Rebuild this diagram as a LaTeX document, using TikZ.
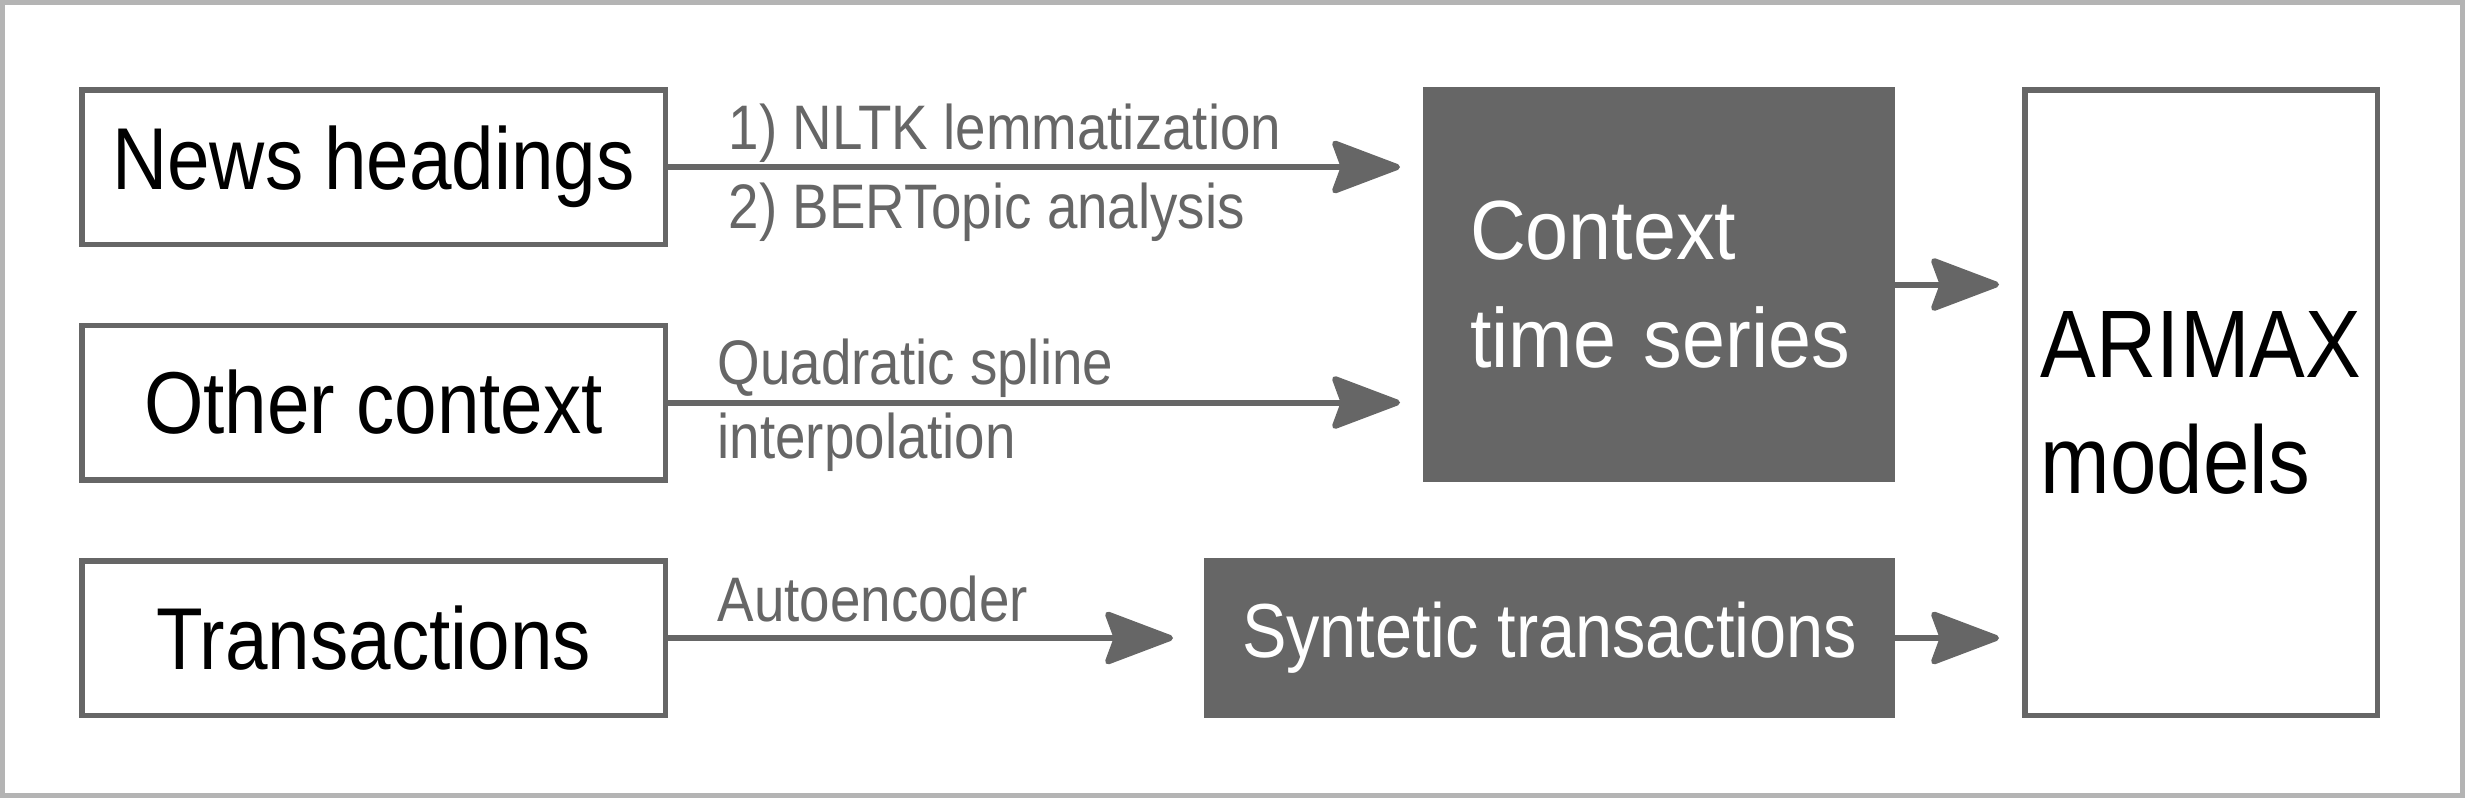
\documentclass[tikz,border=0pt]{standalone}
\usepackage{fontspec}
\setmainfont{Liberation Sans}[FakeStretch=0.87]
\newfontfamily\ctxfont{Liberation Sans}[FakeStretch=0.92]
\usetikzlibrary{arrows.meta, calc}
\definecolor{boxgray}{RGB}{102,102,102}
\definecolor{framegray}{RGB}{180,180,180}

\tikzset{
  inbox/.style={draw=boxgray, line width=0.55mm, fill=white, minimum width=58.35mm,
    minimum height=15.45mm, inner sep=0pt, font=\fontsize{25}{30}\selectfont},
  darkbox/.style={fill=boxgray, text=white, inner sep=0pt, outer sep=0pt},
  lbl/.style={anchor=base west, inner sep=0pt, text=boxgray, font=\fontsize{17.9}{21}\selectfont},
  flow/.style={draw=boxgray, line width=0.6mm, shorten >=2.3mm,
    -{Stealth[length=7.5mm,width=5.6mm,inset=1mm,round]}},
}

\begin{document}
\begin{tikzpicture}[x=0.1mm, y=-0.1mm]
\useasboundingbox (0,0) rectangle (2465,798);
\draw[line width=0.5mm, framegray] (2.5,2.5) rectangle (2462.5,795.5);
% inputs
\foreach \nm/\y/\txt in {news/167/News headings, other/402.5/Other context, trans/638/Transactions}{
  \node[inbox] (\nm) at (373.5,\y) {\txt};
}
% intermediate results
\node[darkbox, minimum width=47.2mm, minimum height=39.5mm, text width=37.8mm, inner xsep=4.7mm,
  align=left, font=\ctxfont\fontsize{23.9}{30.7}\selectfont] (ctx) at (1659,284.5)
  {\mbox{Context}\\\mbox{time series}};
\node[darkbox, minimum width=69.1mm, minimum height=16mm, font=\fontsize{21.8}{26}\selectfont]
  (synt) at (1549.5,638) {Syntetic transactions};
\node[inbox, minimum width=35.25mm, minimum height=62.55mm, align=left,
  font=\fontsize{27.3}{33}\selectfont] (arimax) at (2201,402.5) {ARIMAX\\models};
% connectors
\draw[flow] (news) -- (news -| ctx.west);
\draw[flow] (other) -- (other -| ctx.west);
\draw[flow, shorten >=3.1mm] (trans) -- (trans -| synt.west);
\draw[flow] (ctx) -- (ctx -| arimax.west);
\draw[flow] (synt) -- (synt -| arimax.west);
% labels
\node[lbl] (nltk) at (728,149) {1) NLTK lemmatization};
\node[lbl] (bert) at (728,228) {2) BERTopic analysis};
\node[lbl] (quad) at (717,384) {Quadratic spline};
\node[lbl] (interp) at (717,458) {interpolation};
\node[lbl] (auto) at (717,621) {Autoencoder};
\end{tikzpicture}
\end{document}
